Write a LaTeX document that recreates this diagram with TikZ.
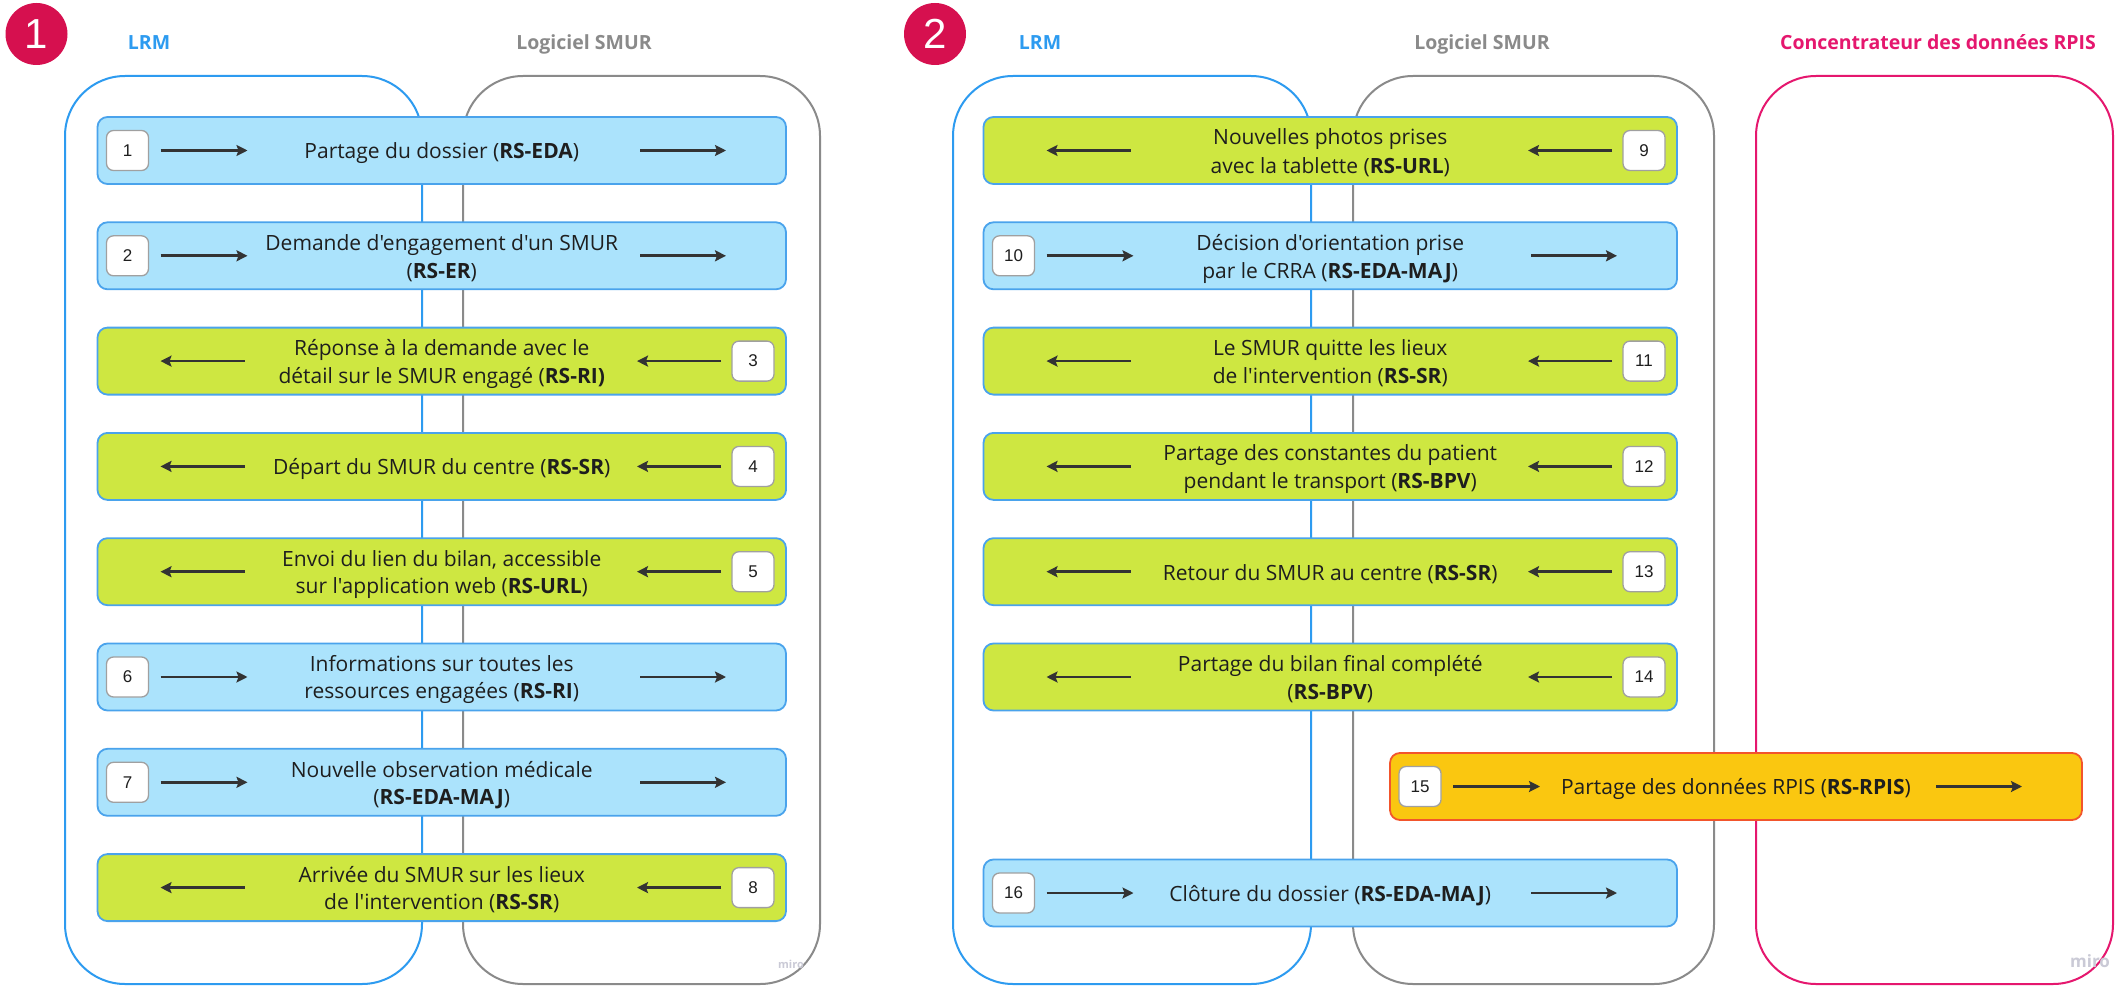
\documentclass[tikz,border=0pt]{standalone}
\usepackage{fontspec}
\setmainfont{Open Sans}
\newfontfamily\osans{Open Sans}
\newfontfamily\numfont{Liberation Sans}
\usetikzlibrary{calc,arrows.meta}
\definecolor{laneblue}{HTML}{2D9BF0}
\definecolor{lanegray}{HTML}{8A8A8A}
\definecolor{lanepink}{HTML}{E5176E}
\definecolor{circred}{HTML}{D6104F}
\definecolor{boxblue}{HTML}{ABE3FC}
\definecolor{boxgreen}{HTML}{CEE741}
\definecolor{boxyellow}{HTML}{FAC710}
\definecolor{boxedge}{HTML}{4AA3EC}
\definecolor{yedge}{HTML}{F2552C}
\definecolor{txt}{HTML}{1E1E1E}
\definecolor{arrcol}{HTML}{333333}
\definecolor{badgeedge}{HTML}{A0A0A0}
\definecolor{mirocol}{HTML}{CACAD6}
\newcommand\ls{\rule[-5pt]{0pt}{27pt}}
\tikzset{
  lane/.style={line width=2pt, rounded corners=60pt},
  flowbox/.style={draw=boxedge, line width=1.8pt, rounded corners=10pt, minimum height=67pt, inner sep=0pt, outer sep=0pt},
  bluebox/.style={flowbox, fill=boxblue},
  greenbox/.style={flowbox, fill=boxgreen},
  yellowbox/.style={flowbox, fill=boxyellow, draw=yedge},
  boxtext/.style={font=\osans\fontsize{21}{27}\selectfont, text=txt, align=center, inner sep=0pt},
  badge/.style={draw=badgeedge, fill=white, line width=1.3pt, rounded corners=7pt, minimum width=42pt, minimum height=40pt, inner sep=0pt, font=\numfont\fontsize{17}{20}\selectfont, text=txt},
  arr/.style={draw=arrcol, line width=2.7pt, -{Stealth[length=11pt,width=11pt,inset=2pt]}},
  header/.style={font=\osans\bfseries\fontsize{19.5}{24}\selectfont, anchor=base},
  stepcircle/.style={circle, fill=circred, minimum size=62pt, inner sep=0pt, text=white, font=\numfont\fontsize{42}{44}\selectfont},
  miro/.style={text=mirocol, inner sep=0pt}
}
% right-going box: #1 id, #2 x, #3 y, #4 width, #5 style, #6 text
\newcommand\rbox[6]{%
  \node[#5, minimum width=#4] (b#1) at (#2,#3) {};
  \node[boxtext] (t#1) at (b#1.center) {#6};
  \node[badge] (n#1) at ($(b#1.west)+(30,0)$) {#1};
  \draw[arr] ($(b#1.west)+(63,0)$) -- ($(b#1.west)+(150,0)$);
  \draw[arr] ($(b#1.east)+(-146,0)$) -- ($(b#1.east)+(-60,0)$);
}
% left-going box
\newcommand\lbox[6]{%
  \node[#5, minimum width=#4] (b#1) at (#2,#3) {};
  \node[boxtext] (t#1) at (b#1.center) {#6};
  \node[badge] (n#1) at ($(b#1.east)+(-33,0)$) {#1};
  \draw[arr] ($(b#1.west)+(147,0)$) -- ($(b#1.west)+(63,0)$);
  \draw[arr] ($(b#1.east)+(-65,0)$) -- ($(b#1.east)+(-149,0)$);
}
\begin{document}
\begin{tikzpicture}[x=1pt,y=-1pt]
\useasboundingbox[fill=white] (0,0) rectangle (2115,987);
% ---------- panel 1 ----------
\node[stepcircle] (c1) at (36.5,34) {1};
\node[header, text=laneblue] (h1) at (149,50) {LRM};
\node[header, text=lanegray] (h2) at (584,50) {Logiciel SMUR};
\draw[lane, draw=laneblue] (65,76) rectangle (422,984);
\draw[lane, draw=lanegray] (463,76) rectangle (820,984);
\node[miro, font=\osans\bfseries\fontsize{11}{12}\selectfont] (m1) at (791,964) {miro};
\rbox{1}{441.75}{150.5}{688.5}{bluebox}{\ls Partage du dossier (\textbf{RS-EDA})}
\rbox{2}{441.75}{255.8}{688.5}{bluebox}{\ls Demande d'engagement d'un SMUR\\\ls(\textbf{RS-ER})}
\lbox{3}{441.75}{361.1}{688.5}{greenbox}{\ls Réponse à la demande avec le\\\ls détail sur le SMUR engagé (\textbf{RS-RI)}}
\lbox{4}{441.75}{466.4}{688.5}{greenbox}{\ls Départ du SMUR du centre (\textbf{RS-SR})}
\lbox{5}{441.75}{571.7}{688.5}{greenbox}{\ls Envoi du lien du bilan, accessible\\\ls sur l'application web (\textbf{RS-URL})}
\rbox{6}{441.75}{677.0}{688.5}{bluebox}{\ls Informations sur toutes les\\\ls ressources engagées (\textbf{RS-RI})}
\rbox{7}{441.75}{782.3}{688.5}{bluebox}{\ls Nouvelle observation médicale\\\ls(\textbf{RS-EDA-MAJ})}
\lbox{8}{441.75}{887.6}{688.5}{greenbox}{\ls Arrivée du SMUR sur les lieux\\\ls de l'intervention (\textbf{RS-SR})}
% ---------- panel 2 ----------
\node[stepcircle] (c2) at (935,34) {2};
\node[header, text=laneblue] (h3) at (1040,50) {LRM};
\node[header, text=lanegray] (h4) at (1482,50) {Logiciel SMUR};
\node[header, text=lanepink] (h5) at (1938,50) {Concentrateur des données RPIS};
\draw[lane, draw=laneblue] (953,76) rectangle (1311,984);
\draw[lane, draw=lanegray] (1353,76) rectangle (1714,984);
\draw[lane, draw=lanepink] (1756,76) rectangle (2113,984);
\node[miro, font=\osans\bfseries\fontsize{17}{18}\selectfont] (m2) at (2090,961) {miro};
\lbox{9}{1330.25}{150.5}{693.5}{greenbox}{\ls Nouvelles photos prises\\\ls avec la tablette (\textbf{RS-URL})}
\rbox{10}{1330.25}{255.8}{693.5}{bluebox}{\ls Décision d'orientation prise\\\ls par le CRRA (\textbf{RS-EDA-MAJ})}
\lbox{11}{1330.25}{361.1}{693.5}{greenbox}{\ls Le SMUR quitte les lieux\\\ls de l'intervention (\textbf{RS-SR})}
\lbox{12}{1330.25}{466.4}{693.5}{greenbox}{\ls Partage des constantes du patient\\\ls pendant le transport (\textbf{RS-BPV})}
\lbox{13}{1330.25}{571.7}{693.5}{greenbox}{\ls Retour du SMUR au centre (\textbf{RS-SR})}
\lbox{14}{1330.25}{677.0}{693.5}{greenbox}{\ls Partage du bilan final complété\\\ls(\textbf{RS-BPV})}
\rbox{15}{1736}{786.5}{692}{yellowbox}{\ls Partage des données RPIS (\textbf{RS-RPIS})}
\rbox{16}{1330.25}{893}{693.5}{bluebox}{\ls Clôture du dossier (\textbf{RS-EDA-MAJ})}
\end{tikzpicture}
\end{document}
